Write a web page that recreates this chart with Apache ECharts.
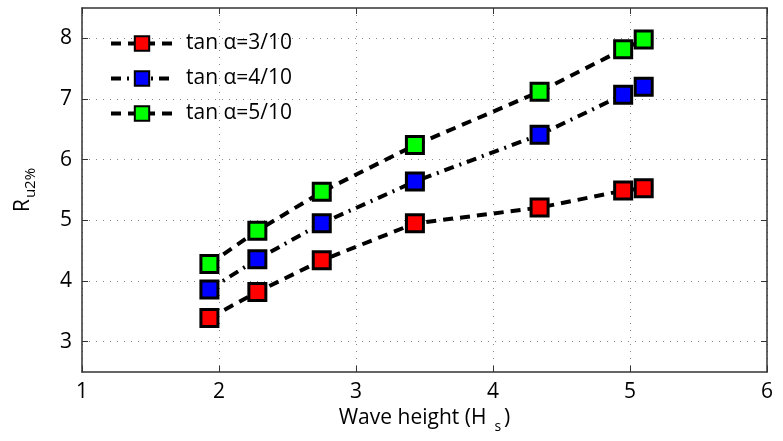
<!DOCTYPE html>
<html><head><meta charset="utf-8">
<script src="https://cdn.jsdelivr.net/npm/echarts@6/dist/echarts.min.js"></script>
<style>html,body{margin:0;padding:0;background:#fff}#c{width:783px;height:441px}</style>
</head><body><div id="c"></div>
<script>
const waveHeight = [1.93, 2.28, 2.75, 3.43, 4.34, 4.95, 5.10];
const slope3 = [3.39, 3.82, 4.34, 4.95, 5.21, 5.49, 5.53];
const slope4 = [3.86, 4.36, 4.95, 5.64, 6.41, 7.07, 7.20];
const slope5 = [4.28, 4.83, 5.47, 6.24, 7.12, 7.82, 7.98];
const yTicks = [3, 4, 5, 6, 7, 8];
const seriesNames = ['tan α=3/10', 'tan α=4/10', 'tan α=5/10'];
const fillColors = ['#ff0000', '#0000ff', '#00ff00'];
const dashTypes = [[10, 7], [10, 6, 2, 6], [10, 7]];
const allSeries = [slope3, slope4, slope5];

const font = '"Open Sans", "DejaVu Sans", sans-serif';
const fs = 21;
const chart = echarts.init(document.getElementById('c'), null, {renderer: 'canvas'});
const mk = (vals, i) => ({
  name: seriesNames[i], type: 'line',
  data: waveHeight.map((x, k) => [x, vals[k]]),
  symbol: 'rect', symbolSize: 17,
  itemStyle: {color: fillColors[i], borderColor: '#000', borderWidth: 3},
  lineStyle: {color: '#000', width: 4, type: dashTypes[i]},
  z: 3 - i
});
const axisCommon = {
  axisLine: {show: true, lineStyle: {color: '#333', width: 1.5}},
};
const splitStyle = {show: true, lineStyle: {color: '#888', type: [1, 6], width: 1}};
chart.setOption({
  animation: false,
  grid: {left: 82, right: 16, top: 8, bottom: 69, show: false},
  legend: {
    left: 104, top: 28, orient: 'vertical', itemGap: 14,
    itemWidth: 62, itemHeight: 18,
    lineStyle: {width: 4, color: '#000'},
    textStyle: {fontFamily: font, fontSize: fs, color: '#000', padding: [0, 0, 0, 8]},
    data: seriesNames
  },
  xAxis: [{
    type: 'value', min: 1, max: 6, interval: 1,
    ...axisCommon,
    axisTick: {show: true, inside: true, length: 6, lineStyle: {color: '#333'}},
    axisLabel: {fontFamily: font, fontSize: fs, color: '#000', margin: 10},
    splitLine: splitStyle,
    name: '{a|Wave height (H}{s|s}{a|)}', nameLocation: 'middle', nameGap: 30,
    nameTextStyle: {rich: {
      a: {fontFamily: font, fontSize: fs, color: '#000'},
      s: {fontFamily: font, fontSize: 14, color: '#000', padding: [18, 3, 0, 8]}
    }}
  }, {
    type: 'value', min: 1, max: 6, interval: 1, position: 'top',
    ...axisCommon,
    axisTick: {show: true, inside: true, length: 6, lineStyle: {color: '#333'}},
    axisLabel: {show: false}, splitLine: {show: false}
  }],
  yAxis: [{
    type: 'value', min: 2.5, max: 8.5,
    ...axisCommon,
    axisTick: {show: true, inside: true, length: 6, lineStyle: {color: '#333'}, customValues: yTicks},
    axisLabel: {fontFamily: font, fontSize: fs, color: '#000', margin: 10, customValues: yTicks},
    splitLine: splitStyle,
    name: '{a|R}{s|u2%}', nameLocation: 'middle', nameGap: 44, nameRotate: 90,
    nameTextStyle: {rich: {
      a: {fontFamily: font, fontSize: fs, color: '#000'},
      s: {fontFamily: font, fontSize: 15, color: '#000', padding: [14, 0, 0, 1]}
    }}
  }, {
    type: 'value', min: 2.5, max: 8.5, position: 'right',
    ...axisCommon,
    axisTick: {show: true, inside: true, length: 6, lineStyle: {color: '#333'}, customValues: yTicks},
    axisLabel: {show: false}, splitLine: {show: false}
  }],
  series: allSeries.map(mk)
});
</script></body></html>
